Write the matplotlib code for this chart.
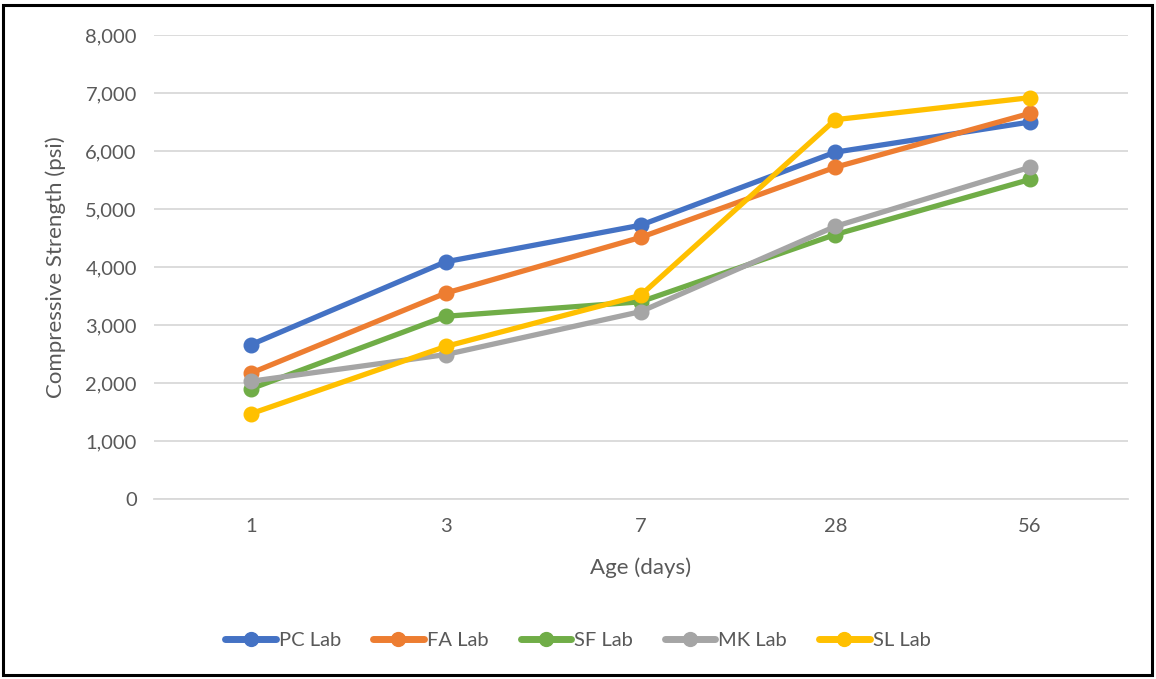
import matplotlib
matplotlib.use("Agg")
import matplotlib.pyplot as plt
from matplotlib.patches import Rectangle

# data (psi)
ages = ["1", "3", "7", "28", "56"]
pc_lab = [2660, 4090, 4720, 5980, 6500]
fa_lab = [2170, 3550, 4510, 5720, 6650]
sf_lab = [1900, 3150, 3400, 4560, 5510]
mk_lab = [2030, 2490, 3230, 4700, 5720]
sl_lab = [1470, 2630, 3510, 6540, 6920]

series = [("PC Lab", pc_lab, "#4472C4"),
          ("FA Lab", fa_lab, "#ED7D31"),
          ("SF Lab", sf_lab, "#70AD47"),
          ("MK Lab", mk_lab, "#A5A5A5"),
          ("SL Lab", sl_lab, "#FFC000")]

plt.rcParams['font.family'] = ['Lato', 'DejaVu Sans']
txt = "#595959"

W, H = 1156, 679
fig = plt.figure(figsize=(W / 100, H / 100), dpi=100)
ax = fig.add_axes([153.5 / W, 1 - 499 / H, 974 / W, 464 / H])

x = list(range(len(ages)))
for name, vals, col in series:
    ax.plot(x, vals, color=col, lw=3.8, marker='o', ms=10.5, label=name,
            solid_capstyle='round')

ax.set_xlim(-0.5, len(ages) - 0.5)
ax.set_ylim(0, 8000)
ax.set_yticks(range(0, 8001, 1000))
ax.yaxis.set_major_formatter(matplotlib.ticker.FuncFormatter(lambda v, p: f"{int(v):,}"))
ax.set_xticks(x)
ax.set_xticklabels(ages)
ax.grid(axis='y', color="#D9D9D9", lw=1.3)
ax.set_axisbelow(True)
for s in ['top', 'right', 'left']:
    ax.spines[s].set_visible(False)
ax.spines['bottom'].set_color("#D9D9D9")
ax.spines['bottom'].set_linewidth(1.3)
ax.tick_params(length=0, labelsize=14.5, colors=txt, pad=12)
ax.tick_params(axis='x', pad=14)
ax.set_xlabel("Age (days)", fontsize=16, color=txt, labelpad=16)
ax.set_ylabel("Compressive Strength (psi)", fontsize=16, color=txt, labelpad=14)

leg = fig.legend(loc='center', bbox_to_anchor=(0.5, 1 - 640 / H), ncol=5,
                 frameon=False, fontsize=14.5, handlelength=2.5,
                 handletextpad=0.15, columnspacing=1.6, markerscale=0.95)
for t in leg.get_texts():
    t.set_color(txt)
for ln in leg.get_lines():
    ln.set_linewidth(5)

fig.patches.append(Rectangle((3 / W, 4 / H), 1149 / W, 670 / H, transform=fig.transFigure,
                             fill=False, ec='black', lw=2.2))

fig.savefig("out.png", dpi=100, facecolor='white')
